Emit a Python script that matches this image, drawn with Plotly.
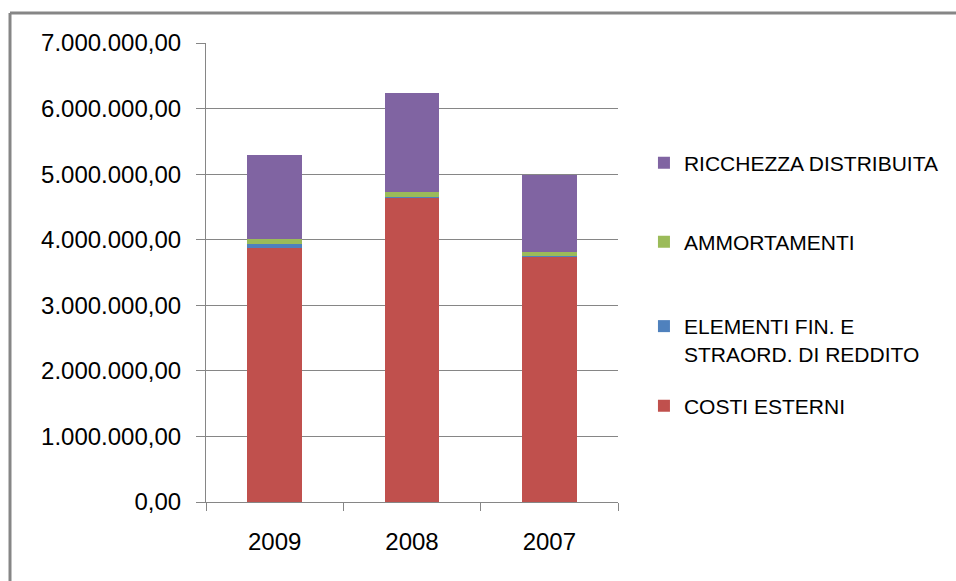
import plotly.graph_objects as go

years = ["2009", "2008", "2007"]
costi_esterni = [3880000, 4650000, 3740000]
elementi_fin = [57000, 3000, 16000]
ammortamenti = [75000, 77000, 56000]
ricchezza = [1280000, 1510000, 1174000]

series_names = ["COSTI ESTERNI", "ELEMENTI FIN. E<br>STRAORD. DI REDDITO", "AMMORTAMENTI", "RICCHEZZA DISTRIBUITA"]
series_values = [costi_esterni, elementi_fin, ammortamenti, ricchezza]
series_colors = ["#C0504D", "#4F81BD", "#9BBB59", "#8064A2"]
legend_ids = ["legend4", "legend3", "legend2", "legend"]

FONT = "Liberation Sans"
GRID = "#868686"

fig = go.Figure()
for name, vals, col, lg in zip(series_names, series_values, series_colors, legend_ids):
    fig.add_trace(go.Bar(x=years, y=vals, name=name, marker=dict(color=col, line=dict(width=0)),
                         width=0.4, legend=lg, showlegend=True))

L_X = 1.063  # paper x for legends
def leg(y):
    return dict(x=L_X, y=y, xanchor="left", yanchor="middle", bgcolor="rgba(0,0,0,0)",
                font=dict(family=FONT, size=21, color="#000000"), valign="top",
                itemclick=False, visible=True)

fig.update_layout(
    width=956, height=581,
    margin=dict(l=206, r=338, t=43, b=79),
    paper_bgcolor="white", plot_bgcolor="white",
    barmode="stack",
    separators=",.",
    showlegend=True,
    font=dict(family=FONT, size=24, color="#000000"),
    legend=leg(0.7386),
    legend2=leg(0.5664),
    legend3=leg(0.353),
    legend4=leg(0.209),
    xaxis=dict(type="category", tickson="boundaries", ticks="outside", ticklen=8,
               tickcolor=GRID, showline=True, linecolor=GRID, linewidth=1,
               showgrid=False, ticklabelstandoff=18,
               tickfont=dict(family=FONT, size=24, color="#000000")),
    yaxis=dict(range=[0, 7000000], dtick=1000000, tick0=0, tickformat=",.2f",
               ticks="outside", ticklen=9, tickcolor=GRID, showline=True,
               linecolor=GRID, linewidth=1, showgrid=True, gridcolor=GRID, gridwidth=1,
               ticklabelstandoff=10, zeroline=False,
               tickfont=dict(family=FONT, size=24, color="#000000")),
    shapes=[
        dict(type="line", xref="paper", yref="paper", x0=-0.4757, x1=1.85, y0=1.0654, y1=1.0654,
             line=dict(color=GRID, width=3)),
        dict(type="line", xref="paper", yref="paper", x0=-0.4757, x1=-0.4757, y0=1.0654, y1=-0.2,
             line=dict(color=GRID, width=3)),
    ],
)

fig.write_html("out.html")
